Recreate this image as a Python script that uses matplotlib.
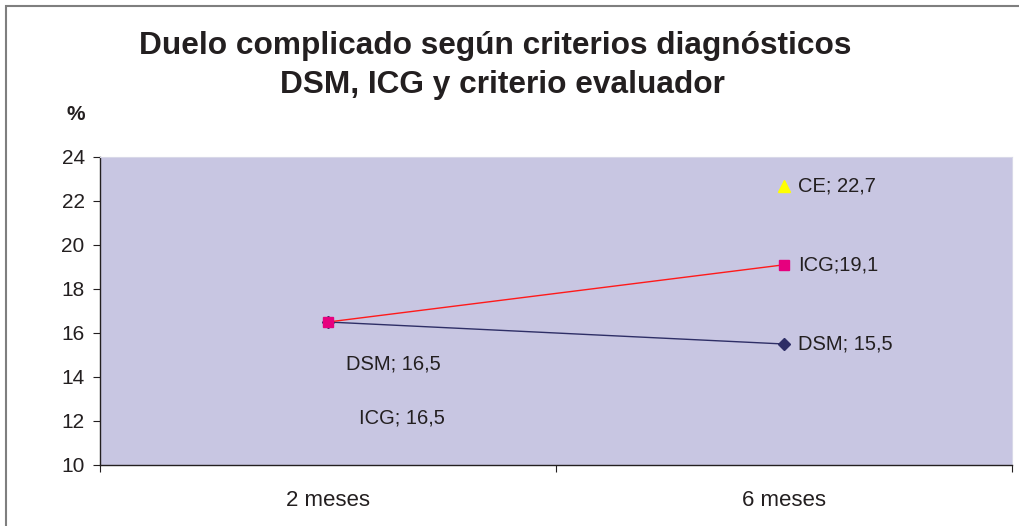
import matplotlib.pyplot as plt
from matplotlib.patches import Rectangle

plt.rcParams['font.family'] = ['Liberation Sans', 'DejaVu Sans']

categories = ["2 meses", "6 meses"]
dsm = [16.5, 15.5]
icg = [16.5, 19.1]
ce_x = [1]
ce = [22.7]

dsm_labels = ["DSM; 16,5", "DSM; 15,5"]
icg_labels = ["ICG; 16,5", "ICG;19,1"]
ce_labels = ["CE; 22,7"]

yticks = [10, 12, 14, 16, 18, 20, 22, 24]

fig = plt.figure(figsize=(10.2, 5.26), dpi=100)
ax = fig.add_axes([100/1020, 61/526, 912/1020, 308/526])
ax.set_facecolor('#C8C6E2')

x = list(range(len(categories)))
ax.plot(x, dsm, color='#2E2E66', lw=1, marker='D', ms=6, mfc='#2E2E66', mec='#2E2E66', zorder=3)
ax.plot(x, icg, color='#FF1A1A', lw=1, marker='s', ms=7, mfc='#E6007E', mec='#E6007E', zorder=4)
ax.plot(ce_x, ce, ls='none', marker='^', ms=8, mfc='#FFFF00', mec='#FFFF00', zorder=4)

# etiquetas de datos
fs = 14.5
ax.annotate(dsm_labels[0], (0, dsm[0]), xytext=(47, -30), textcoords='offset points',
            ha='center', va='center', fontsize=fs, color='#231F20')
ax.annotate(icg_labels[0], (0, icg[0]), xytext=(53, -69), textcoords='offset points',
            ha='center', va='center', fontsize=fs, color='#231F20')
ax.annotate(dsm_labels[1], (1, dsm[1]), xytext=(10, 0), textcoords='offset points',
            ha='left', va='center', fontsize=fs, color='#231F20')
ax.annotate(icg_labels[1], (1, icg[1]), xytext=(10, 0), textcoords='offset points',
            ha='left', va='center', fontsize=fs, color='#231F20')
ax.annotate(ce_labels[0], (1, ce[0]), xytext=(10, 0), textcoords='offset points',
            ha='left', va='center', fontsize=fs, color='#231F20')

ax.set_xlim(-0.5, 1.5)
ax.set_ylim(10, 24)
ax.set_yticks(yticks)
ax.set_yticklabels([str(v) for v in yticks], fontsize=15, color='#231F20')
ax.set_xticks([-0.5, 0.5, 1.5])
ax.set_xticklabels([])
ax.set_xticks(x, minor=True)
ax.set_xticklabels(categories, minor=True, fontsize=16, color='#231F20')
ax.tick_params(axis='x', which='minor', length=0, pad=18)
ax.tick_params(axis='x', which='major', length=5, direction='out', color='#231F20')
ax.tick_params(axis='y', length=5, direction='out', color='#231F20', pad=6)

for s in ['top', 'right']:
    ax.spines[s].set_color('#D8D8E8')
    ax.spines[s].set_linewidth(0.8)
for s in ['left', 'bottom']:
    ax.spines[s].set_color('#231F20')
    ax.spines[s].set_linewidth(1)

fig.text(495/1020, 1 - 46/526, "Duelo complicado según criterios diagnósticos",
         ha='center', va='center', fontsize=22.8, fontweight='bold', color='#231F20')
fig.text(502/1020, 1 - 85/526, "DSM, ICG y criterio evaluador",
         ha='center', va='center', fontsize=22.8, fontweight='bold', color='#231F20')
fig.text(76/1020, 1 - 115/526, "%", ha='center', va='center', fontsize=15,
         fontweight='bold', color='#231F20')

# marco del grafico
fig.patches.append(Rectangle((6/1020, -0.1), 1.2, 1 - 6/526 + 0.1, transform=fig.transFigure,
                             fill=False, edgecolor='#7F7F7F', lw=1.5))

fig.savefig('out.png', dpi=100, facecolor='white')
